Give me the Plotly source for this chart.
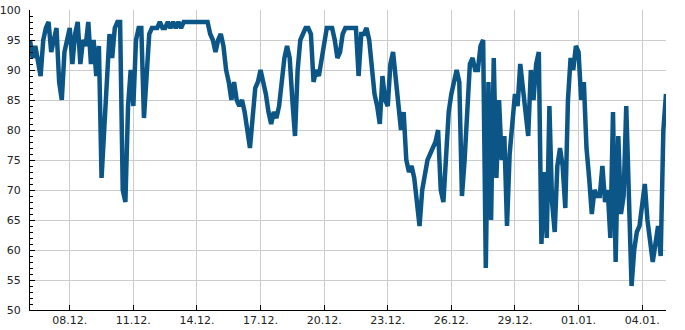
import pandas as pd
import plotly.graph_objects as go

# Sampling: every 3 hours from 06.12. 03:00 to 05.01. 03:00
start_time = "2018-12-06 03:00"
step_hours = 3

values = [
    95, 92, 94, 91, 89, 95, 97, 98, 93, 95,   # 0-9
    97, 88, 85, 93, 95, 97, 91, 96, 98, 91,   # 10-19
    95, 94, 98, 91, 95, 89, 94, 72, 80, 89,   # 20-29
    96, 92, 97, 98, 98, 70, 68, 84, 90, 84,   # 30-39
    95, 97, 97, 82, 88, 96, 97, 97, 97, 98,   # 40-49
    97, 97, 98, 97, 98, 97, 98, 97, 98, 98,   # 50-59
    98, 98, 98, 98, 98, 98, 98, 98, 96, 95,   # 60-69
    93, 95, 96, 94, 90, 88, 85, 88, 85, 84,   # 70-79
    85, 83, 80, 77, 82, 87, 88, 90, 88, 86,   # 80-89
    83, 81, 83, 82, 84, 89, 92, 94, 92, 85,   # 90-99
    79, 90, 95, 96, 97, 97, 96, 88, 90, 89,   # 100-109
    92, 95, 97, 97, 97, 95, 92, 93, 96, 97,   # 110-119
    97, 97, 97, 97, 89, 96, 96, 97, 95, 91,   # 120-129
    86, 84, 81, 89, 85, 84, 91, 93, 88, 84,   # 130-139
    80, 83, 75, 73, 74, 72, 68, 64, 70, 73,   # 140-149
    75, 76, 77, 78, 80, 70, 68, 77, 83, 86,   # 150-159
    88, 90, 88, 69, 75, 84, 91, 92, 90, 90,   # 160-169
    94, 95, 57, 88, 65, 92, 72, 85, 75, 79,   # 170-179
    64, 76, 82, 86, 84, 91, 87, 82, 79, 90,   # 180-189
    85, 91, 93, 61, 73, 62, 84, 68, 63, 74,   # 190-199
    77, 74, 67, 85, 92, 90, 94, 93, 85, 88,   # 200-209
    77, 72, 66, 70, 69, 69, 74, 68, 70, 62,   # 210-219
    83, 58, 79, 66, 69, 84, 66, 54, 60, 63,   # 220-229
    64, 67, 71, 65, 62, 58, 61, 64, 59, 80,   # 230-239
    86,                                       # 240
]

times = pd.date_range(start=start_time, periods=len(values), freq=f"{step_hours}h")

y_min, y_max, y_step = 50, 100, 5
x_tick_start = "2018-12-08"
x_tick_days = 3

line_color = "#0b5686"
grid_color = "#cccccc"
font_family = "DejaVu Sans"

fig = go.Figure(
    go.Scatter(
        x=times,
        y=values,
        mode="lines",
        line=dict(color=line_color, width=4.5),
        hoverinfo="x+y",
    )
)

fig.update_layout(
    width=685,
    height=330,
    margin=dict(l=30, r=19, t=10, b=20, autoexpand=False),
    paper_bgcolor="white",
    plot_bgcolor="white",
    showlegend=False,
    font=dict(family=font_family, size=11, color="#222222"),
)

fig.update_xaxes(
    automargin=False,
    range=[times[0], times[-1]],
    tickformat="%d.%m.",
    tick0=x_tick_start,
    dtick=x_tick_days * 86400000,
    ticks="inside",
    ticklen=5,
    tickcolor="black",
    ticklabelstandoff=0,
    showgrid=True,
    gridcolor=grid_color,
    gridwidth=1,
    showline=True,
    linecolor="black",
    linewidth=1,
    zeroline=False,
)

fig.update_yaxes(
    automargin=False,
    range=[y_min, y_max],
    tick0=y_min,
    dtick=y_step,
    ticks="inside",
    ticklen=5,
    tickcolor="black",
    ticklabelstandoff=6,
    minor=dict(dtick=1, ticks="inside", ticklen=3, tickcolor="black", showgrid=False),
    showgrid=True,
    gridcolor=grid_color,
    gridwidth=1,
    showline=True,
    linecolor="black",
    linewidth=1,
    zeroline=False,
)

fig.write_html("out.html")
